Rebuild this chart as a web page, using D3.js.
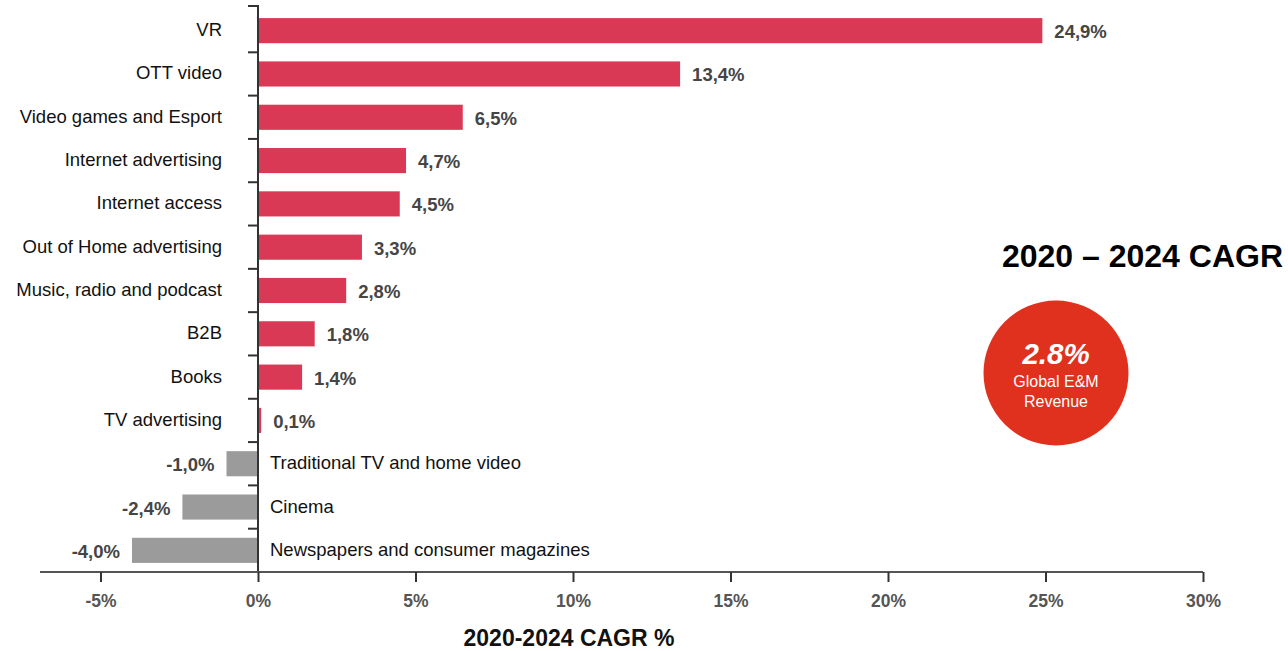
<!DOCTYPE html>
<html>
<head>
<meta charset="utf-8">
<script src="https://cdn.jsdelivr.net/npm/d3@7"></script>
<style>
  html, body { margin: 0; padding: 0; background: #fff; }
  svg { display: block; font-family: "Liberation Sans", Arial, sans-serif; }
</style>
</head>
<body>
<svg id="chart" width="1288" height="651"></svg>
<script>
// Segment names, top to bottom
const categories = [
  "VR", "OTT video", "Video games and Esport", "Internet advertising",
  "Internet access", "Out of Home advertising", "Music, radio and podcast",
  "B2B", "Books", "TV advertising", "Traditional TV and home video",
  "Cinema", "Newspapers and consumer magazines"
];
// 2020-2024 CAGR, percent
const cagr = [24.9, 13.4, 6.5, 4.7, 4.5, 3.3, 2.8, 1.8, 1.4, 0.1, -1.0, -2.4, -4.0];
const xTicks = [-5, 0, 5, 10, 15, 20, 25, 30];
const globalCagr = 2.8;

const svg = d3.select("#chart");

const x = d3.scaleLinear().domain([-5, 30]).range([100.5, 1203]);
const y = d3.scaleBand().domain(categories).range([9, 572]).paddingInner(0.42).paddingOuter(0.21);

const fmt = v => v.toFixed(1).replace(".", ",") + "%";

// Bars
svg.append("g").selectAll("rect")
  .data(categories)
  .join("rect")
  .attr("x", (d, i) => x(Math.min(0, cagr[i])))
  .attr("y", d => y(d))
  .attr("width", (d, i) => Math.abs(x(cagr[i]) - x(0)))
  .attr("height", y.bandwidth())
  .attr("fill", (d, i) => cagr[i] >= 0 ? "#d93954" : "#9b9b9b");

// Category labels: left of the axis for growth, right of it for decline
svg.append("g").selectAll("text")
  .data(categories)
  .join("text")
  .attr("x", (d, i) => cagr[i] >= 0 ? x(0) - 36 : x(0) + 12)
  .attr("y", d => y(d) + y.bandwidth() / 2 - 1)
  .attr("dy", "0.35em")
  .attr("text-anchor", (d, i) => cagr[i] >= 0 ? "end" : "start")
  .attr("font-size", 18.5)
  .attr("fill", "#111")
  .text(d => d);

// Value labels
svg.append("g").selectAll("text")
  .data(categories)
  .join("text")
  .attr("x", (d, i) => cagr[i] >= 0 ? x(cagr[i]) + 12 : x(cagr[i]) - 12)
  .attr("y", d => y(d) + y.bandwidth() / 2 + 1)
  .attr("dy", "0.35em")
  .attr("text-anchor", (d, i) => cagr[i] >= 0 ? "start" : "end")
  .attr("font-size", 18.5)
  .attr("font-weight", "bold")
  .attr("fill", "#454545")
  .text((d, i) => fmt(cagr[i]));

// Vertical category axis with ticks at band boundaries
const step = y.step();
const yAxis = svg.append("g");
yAxis.append("line")
  .attr("x1", x(0)).attr("x2", x(0))
  .attr("y1", 5).attr("y2", 572)
  .attr("stroke", "#333").attr("stroke-width", 2);
const boundaries = categories.map((d, i) => i === 0 ? 6 : y(d) - (step - y.bandwidth()) / 2);
yAxis.selectAll(".tk")
  .data(boundaries)
  .join("line")
  .attr("x1", x(0) - 10).attr("x2", x(0))
  .attr("y1", d => d).attr("y2", d => d)
  .attr("stroke", "#333").attr("stroke-width", 2);

// Horizontal value axis
const xAxis = d3.axisBottom(x)
  .tickValues(xTicks)
  .tickFormat(d => d + "%")
  .tickSize(10)
  .tickPadding(13);
const gx = svg.append("g").attr("transform", "translate(0,572)").call(xAxis);
gx.select(".domain").remove();
gx.insert("line", ":first-child")
  .attr("x1", 40).attr("x2", x(30))
  .attr("y1", 0).attr("y2", 0)
  .attr("stroke", "#555").attr("stroke-width", 2);
gx.selectAll(".tick line").attr("stroke", "#333").attr("stroke-width", 2);
gx.selectAll(".tick text")
  .attr("font-size", 17.5)
  .attr("font-weight", "bold")
  .attr("fill", "#555")
  .attr("font-family", "'Liberation Sans', Arial, sans-serif");

svg.append("text")
  .attr("x", 569).attr("y", 646)
  .attr("text-anchor", "middle")
  .attr("font-size", 23)
  .attr("font-weight", "bold")
  .attr("fill", "#111")
  .text("2020-2024 CAGR %");

// Headline and global figure
svg.append("text")
  .attr("x", 1283).attr("y", 267)
  .attr("text-anchor", "end")
  .attr("font-size", 32)
  .attr("font-weight", "bold")
  .attr("fill", "#000")
  .text("2020 – 2024 CAGR");

const cx = 1056, cy = 373;
svg.append("circle")
  .attr("cx", cx).attr("cy", cy).attr("r", 72.5)
  .attr("fill", "#e0301e");
svg.append("text")
  .attr("x", cx).attr("y", cy - 9)
  .attr("text-anchor", "middle")
  .attr("font-size", 29.5)
  .attr("font-weight", "bold")
  .attr("font-style", "italic")
  .attr("fill", "#fff")
  .text(globalCagr.toFixed(1) + "%");
svg.append("text")
  .attr("x", cx).attr("y", cy + 14)
  .attr("text-anchor", "middle")
  .attr("font-size", 16)
  .attr("fill", "#fff")
  .text("Global E&M");
svg.append("text")
  .attr("x", cx).attr("y", cy + 34)
  .attr("text-anchor", "middle")
  .attr("font-size", 16)
  .attr("fill", "#fff")
  .text("Revenue");
</script>
</body>
</html>
